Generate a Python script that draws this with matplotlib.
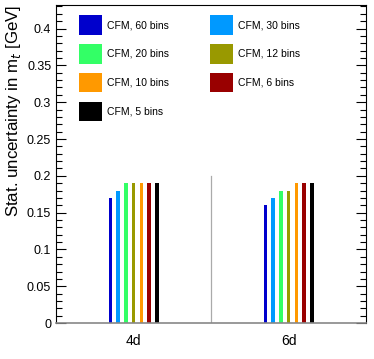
import matplotlib
matplotlib.use("Agg")
import matplotlib.pyplot as plt
from matplotlib.patches import Patch
from matplotlib.ticker import MultipleLocator
import numpy as np

plt.rcParams['font.family'] = ['Liberation Sans', 'DejaVu Sans']

categories = ["4d", "6d"]
series_labels = ["CFM, 60 bins", "CFM, 30 bins", "CFM, 20 bins", "CFM, 12 bins",
                 "CFM, 10 bins", "CFM, 6 bins", "CFM, 5 bins"]
series_colors = ["#0000cc", "#0099ff", "#33ff66", "#999900", "#ff9900", "#990000", "#000000"]
values_4d = [0.17, 0.18, 0.19, 0.19, 0.19, 0.19, 0.19]
values_6d = [0.16, 0.17, 0.18, 0.18, 0.19, 0.19, 0.19]
separator_height = 0.2

fig = plt.figure(figsize=(3.74, 3.59), dpi=100)
ax = fig.add_axes([0.15, 0.10, 0.829, 0.886])

centers = np.array([0.5, 1.5])
spacing = 0.05
width = 0.022
vals = np.array([values_4d, values_6d])
for i, (lab, col) in enumerate(zip(series_labels, series_colors)):
    ax.bar(centers + (i - 3) * spacing, vals[:, i], width=width, color=col, label=lab)

ax.plot([1.0, 1.0], [0, separator_height], color="#aaaaaa", lw=0.9)

ax.set_xlim(0, 2)
ax.set_ylim(0, 0.432)
ax.set_xticks(centers)
ax.set_xticklabels(categories, fontsize=10)
ax.tick_params(axis='x', length=0, pad=8)
ax.yaxis.set_major_locator(MultipleLocator(0.05))
ax.yaxis.set_minor_locator(MultipleLocator(0.01))
ax.yaxis.set_major_formatter(matplotlib.ticker.FuncFormatter(lambda v, p: f"{v:g}"))
ax.tick_params(axis='y', which='both', direction='in', right=True, labelsize=9, width=0.8)
ax.tick_params(axis='y', which='major', length=7)
ax.tick_params(axis='y', which='minor', length=4)
ax.spines['bottom'].set_color('#888888')
ax.spines['bottom'].set_linewidth(1.2)
ax.set_ylabel("Stat. uncertainty in m$_{t}$ [GeV]", fontsize=12.2, loc='top', labelpad=3)

# legend filled row by row (matplotlib fills column-first, so reorder)
order = [0, 2, 4, 6, 1, 3, 5]
handles = [Patch(facecolor=series_colors[k], edgecolor='none') for k in order]
labels = [series_labels[k] for k in order]
ax.legend(handles, labels, ncol=2, loc='upper left', bbox_to_anchor=(0.074, 0.968),
          frameon=False, fontsize=7.5, handlelength=2.2, handleheight=2.5,
          labelspacing=0.9, columnspacing=3.9, handletextpad=0.5, borderaxespad=0,
          borderpad=0)

fig.savefig("out.png", dpi=100)
